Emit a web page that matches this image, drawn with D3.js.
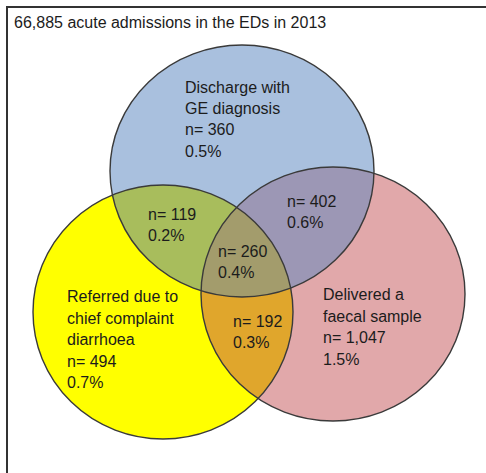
<!DOCTYPE html>
<html>
<head>
<meta charset="utf-8">
<script src="https://cdn.jsdelivr.net/npm/d3@7"></script>
<style>
  html, body { margin: 0; padding: 0; background: #fff; }
  svg { display: block; }
  text { font-family: "Liberation Sans", Arial, sans-serif; font-size: 16px; fill: #1c1c1c; }
</style>
</head>
<body>
<svg id="chart" width="486" height="473"></svg>
<script>
// ---- data ----
const title = "66,885 acute admissions in the EDs in 2013";
const setNames = ["Discharge with GE diagnosis", "Referred due to chief complaint diarrhoea", "Delivered a faecal sample"];
const regionKeys = ["A", "B", "C", "AB", "AC", "BC", "ABC"];   // A=GE diagnosis, B=referred, C=faecal sample
const regionCounts = ["360", "494", "1,047", "119", "402", "192", "260"];
const regionPercents = ["0.5%", "0.7%", "1.5%", "0.2%", "0.6%", "0.3%", "0.4%"];
const regionLabelLines = [
  ["Discharge with", "GE diagnosis"],
  ["Referred due to", "chief complaint", "diarrhoea"],
  ["Delivered a", "faecal sample"],
  [], [], [], []
];

// ---- layout & style ----
const ellipses = [
  { cx: 242, cy: 171, rx: 132, ry: 126, fill: "#a9c0de" },  // A blue
  { cx: 163, cy: 312, rx: 130, ry: 127, fill: "#ffff00" },  // B yellow
  { cx: 333, cy: 294, rx: 132, ry: 127, fill: "#e1a8aa" }   // C pink
];
const overlapFill = { AB: "#a8bd5c", AC: "#9c97b5", BC: "#e0a62c", ABC: "#a39c6c" };
const labelPos = {
  A:   { x: 185, y: 93,  dy: 21.2 },
  B:   { x: 67,  y: 302, dy: 21.5 },
  C:   { x: 323, y: 300, dy: 21.7 },
  AB:  { x: 148, y: 220, dy: 21 },
  AC:  { x: 287, y: 207, dy: 21 },
  BC:  { x: 233, y: 327, dy: 21 },
  ABC: { x: 218, y: 257, dy: 21 }
};

const svg = d3.select("#chart");
const defs = svg.append("defs");

// clip paths for each ellipse
ellipses.forEach((e, i) => {
  defs.append("clipPath").attr("id", "clip" + i)
    .append("ellipse").attr("cx", e.cx).attr("cy", e.cy).attr("rx", e.rx).attr("ry", e.ry);
});

// frame
svg.append("rect")
  .attr("x", 7).attr("y", 7).attr("width", 520).attr("height", 520)
  .attr("fill", "none").attr("stroke", "#333").attr("stroke-width", 2);

// title
svg.append("text").attr("x", 14).attr("y", 28).text(title);

// base ellipses
const g = svg.append("g");
g.selectAll("ellipse.base").data(ellipses).join("ellipse")
  .attr("class", "base")
  .attr("cx", d => d.cx).attr("cy", d => d.cy).attr("rx", d => d.rx).attr("ry", d => d.ry)
  .attr("fill", d => d.fill);

// overlaps
function overlap(idxA, idxB, fill) {
  const e = ellipses[idxB];
  g.append("g").attr("clip-path", `url(#clip${idxA})`)
    .append("ellipse")
    .attr("cx", e.cx).attr("cy", e.cy).attr("rx", e.rx).attr("ry", e.ry)
    .attr("fill", fill);
}
overlap(0, 1, overlapFill.AB);
overlap(0, 2, overlapFill.AC);
overlap(1, 2, overlapFill.BC);
// triple
const e2 = ellipses[2];
g.append("g").attr("clip-path", "url(#clip0)")
  .append("g").attr("clip-path", "url(#clip1)")
  .append("ellipse")
  .attr("cx", e2.cx).attr("cy", e2.cy).attr("rx", e2.rx).attr("ry", e2.ry)
  .attr("fill", overlapFill.ABC);

// outlines
g.selectAll("ellipse.outline").data(ellipses).join("ellipse")
  .attr("class", "outline")
  .attr("cx", d => d.cx).attr("cy", d => d.cy).attr("rx", d => d.rx).attr("ry", d => d.ry)
  .attr("fill", "none").attr("stroke", "#3a3a3a").attr("stroke-width", 1.4);

// labels
regionKeys.forEach((k, i) => {
  const lines = regionLabelLines[i].concat(["n= " + regionCounts[i], regionPercents[i]]);
  const p = labelPos[k];
  const t = svg.append("text").attr("x", p.x).attr("y", p.y);
  lines.forEach((ln, j) => {
    t.append("tspan").attr("x", p.x).attr("y", p.y + j * p.dy).text(ln);
  });
});
</script>
</body>
</html>
